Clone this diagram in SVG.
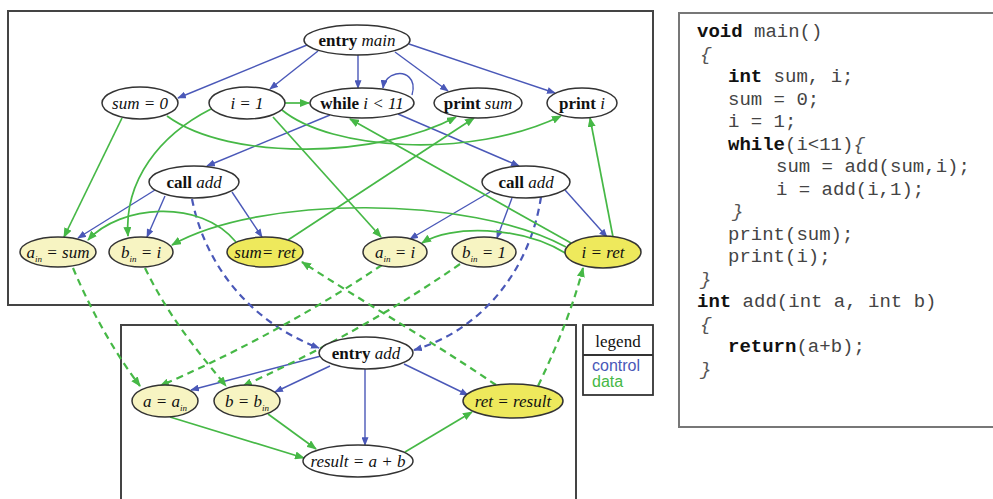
<svg xmlns="http://www.w3.org/2000/svg" width="993" height="499" viewBox="0 0 993 499">
  <style>
    .frame { fill: none; stroke: #444; stroke-width: 2; }
    .node ellipse { stroke: #333; stroke-width: 1.5; fill: #fff; }
    .node.par ellipse { fill: #f7f4c2; }
    .node.ret ellipse { fill: #eee95c; }
    .node text { font-family: "Liberation Serif", "Times New Roman", serif; font-size: 17px; fill: #111; text-anchor: middle; }
    .b { font-weight: bold; }
    .i { font-style: italic; }
    .sub { font-size: 9px; font-style: italic; }
    .ctl { fill: none; stroke: #4a58b8; stroke-width: 1.4; }
    .dat { fill: none; stroke: #46b846; stroke-width: 1.7; }
    .dash { stroke-dasharray: 7 5; stroke-width: 2.2; }
    .code { font-family: "Liberation Mono", "Courier New", monospace; font-size: 19px; fill: #444; white-space: pre; }
    .kw { font-weight: bold; fill: #111; }
    .br { font-style: italic; fill: #555; }
  </style>
  <defs>
    <marker id="ab" viewBox="0 0 10 8" refX="9" refY="4" markerWidth="9" markerHeight="7" markerUnits="userSpaceOnUse" orient="auto">
      <path d="M0,0 L10,4 L0,8 z" fill="#4a58b8"/>
    </marker>
    <marker id="ag" viewBox="0 0 10 8" refX="9" refY="4" markerWidth="10" markerHeight="8" markerUnits="userSpaceOnUse" orient="auto">
      <path d="M0,0 L10,4 L0,8 z" fill="#46b846"/>
    </marker>
  </defs>

  <rect width="993" height="499" fill="#fff"/>

  <!-- frames -->
  <rect class="frame" x="8" y="11" width="645" height="294"/>
  <rect class="frame" x="121" y="325" width="455" height="190"/>
  <rect x="679" y="13" width="330" height="414" fill="none" stroke="#777" stroke-width="2"/>

  <!-- connectors -->
  <g id="edges">
    <!-- control (main) -->
    <path class="ctl" marker-end="url(#ab)" d="M307,45 L178,98"/>
    <path class="ctl" marker-end="url(#ab)" d="M318,51 L270,89"/>
    <path class="ctl" marker-end="url(#ab)" d="M358,55 L358,88"/>
    <path class="ctl" marker-end="url(#ab)" d="M395,52 L448,91"/>
    <path class="ctl" marker-end="url(#ab)" d="M409,44 L555,93"/>
    <path class="ctl" marker-end="url(#ab)" d="M412,95 C417,78 405,72 396,74 C388,76 384,81 383,88"/>
    <path class="ctl" marker-end="url(#ab)" d="M330,115 L207,166"/>
    <path class="ctl" marker-end="url(#ab)" d="M398,114 L519,166"/>
    <path class="ctl" marker-end="url(#ab)" d="M155,190 L78,238"/>
    <path class="ctl" marker-end="url(#ab)" d="M165,196 L147,237"/>
    <path class="ctl" marker-end="url(#ab)" d="M232,192 L262,237"/>
    <path class="ctl" marker-end="url(#ab)" d="M490,192 L410,239"/>
    <path class="ctl" marker-end="url(#ab)" d="M512,198 L497,238"/>
    <path class="ctl" marker-end="url(#ab)" d="M565,190 L607,237"/>
    <!-- control (add) -->
    <path class="ctl" marker-end="url(#ab)" d="M321,356 L191,390"/>
    <path class="ctl" marker-end="url(#ab)" d="M330,366 L275,392"/>
    <path class="ctl" marker-end="url(#ab)" d="M365,369 L365,445"/>
    <path class="ctl" marker-end="url(#ab)" d="M404,364 L468,395"/>
    <!-- call edges -->
    <path class="ctl dash" marker-end="url(#ab)" d="M192,199 C205,265 250,322 319,348"/>
    <path class="ctl dash" marker-end="url(#ab)" d="M541,197 C530,270 482,330 414,350"/>

    <!-- data (main) -->
    <path class="dat" marker-end="url(#ag)" d="M285,103 L309,103"/>
    <path class="dat" marker-end="url(#ag)" d="M122,118 L64,237"/>
    <path class="dat" marker-end="url(#ag)" d="M211,109 C160,135 124,180 128,236"/>
    <path class="dat" marker-end="url(#ag)" d="M273,117 L381,237"/>
    <path class="dat" marker-end="url(#ag)" d="M167,116 C230,162 380,158 456,117"/>
    <path class="dat" marker-end="url(#ag)" d="M282,110 C330,150 470,160 561,116"/>
    <path class="dat" marker-end="url(#ag)" d="M236,242 C200,198 120,205 88,240"/>
    <path class="dat" marker-end="url(#ag)" d="M288,240 L474,118"/>
    <path class="dat" marker-end="url(#ag)" d="M571,243 L350,119"/>
    <path class="dat" marker-end="url(#ag)" d="M566,247 C470,195 260,195 172,245"/>
    <path class="dat" marker-end="url(#ag)" d="M567,254 C520,225 450,225 422,243"/>
    <path class="dat" marker-end="url(#ag)" d="M613,237 L590,118"/>
    <!-- data (add) -->
    <path class="dat" marker-end="url(#ag)" d="M170,417 L304,458"/>
    <path class="dat" marker-end="url(#ag)" d="M268,414 L316,449"/>
    <path class="dat" marker-end="url(#ag)" d="M405,452 L472,412"/>
    <!-- parameter passing -->
    <path class="dat dash" marker-end="url(#ag)" d="M73,268 C95,320 120,360 140,386"/>
    <path class="dat dash" marker-end="url(#ag)" d="M145,268 C170,320 205,360 226,386"/>
    <path class="dat dash" marker-end="url(#ag)" d="M382,265 C300,320 220,360 160,386"/>
    <path class="dat dash" marker-end="url(#ag)" d="M460,264 C380,320 300,360 243,386"/>
    <path class="dat dash" marker-end="url(#ag)" d="M496,385 C430,340 360,300 302,262"/>
    <path class="dat dash" marker-end="url(#ag)" d="M538,386 C560,340 575,300 583,268"/>
  </g>

  <!-- nodes: main -->
  <g id="entry-main" class="node"><ellipse cx="357" cy="40" rx="53" ry="15"/><text x="357" y="46"><tspan class="b">entry</tspan> <tspan class="i">main</tspan></text></g>
  <g id="sum0" class="node"><ellipse cx="140" cy="103" rx="38" ry="16"/><text x="140" y="109" class="i">sum = 0</text></g>
  <g id="i1" class="node"><ellipse cx="247" cy="103" rx="38" ry="16"/><text x="247" y="109" class="i">i = 1</text></g>
  <g id="while" class="node"><ellipse cx="362" cy="103" rx="52" ry="15"/><text x="362" y="109"><tspan class="b">while</tspan> <tspan class="i">i &lt; 11</tspan></text></g>
  <g id="print-sum" class="node"><ellipse cx="478" cy="103" rx="44" ry="15"/><text x="478" y="109"><tspan class="b">print</tspan> <tspan class="i">sum</tspan></text></g>
  <g id="print-i" class="node"><ellipse cx="582" cy="103" rx="35" ry="15"/><text x="582" y="109"><tspan class="b">print</tspan> <tspan class="i">i</tspan></text></g>
  <g id="call1" class="node"><ellipse cx="194" cy="182" rx="45" ry="16"/><text x="194" y="188"><tspan class="b">call</tspan> <tspan class="i">add</tspan></text></g>
  <g id="call2" class="node"><ellipse cx="526" cy="182" rx="44" ry="16"/><text x="526" y="188"><tspan class="b">call</tspan> <tspan class="i">add</tspan></text></g>
  <g id="ain-sum" class="node par"><ellipse cx="58" cy="252" rx="38" ry="15"/><text x="58" y="258" class="i">a<tspan class="sub" dy="4">in</tspan><tspan dy="-4"> = sum</tspan></text></g>
  <g id="bin-i" class="node par"><ellipse cx="141" cy="252" rx="32" ry="15"/><text x="141" y="258" class="i">b<tspan class="sub" dy="4">in</tspan><tspan dy="-4"> = i</tspan></text></g>
  <g id="sum-ret" class="node ret"><ellipse cx="265" cy="252" rx="38" ry="15"/><text x="265" y="258" class="i">sum= ret</text></g>
  <g id="ain-i" class="node par"><ellipse cx="395" cy="252" rx="32" ry="15"/><text x="395" y="258" class="i">a<tspan class="sub" dy="4">in</tspan><tspan dy="-4"> = i</tspan></text></g>
  <g id="bin-1" class="node par"><ellipse cx="484" cy="252" rx="32" ry="15"/><text x="484" y="258" class="i">b<tspan class="sub" dy="4">in</tspan><tspan dy="-4"> = 1</tspan></text></g>
  <g id="i-ret" class="node ret"><ellipse cx="603" cy="252" rx="38" ry="16"/><text x="603" y="258" class="i">i = ret</text></g>

  <!-- nodes: add -->
  <g id="entry-add" class="node"><ellipse cx="366" cy="353" rx="47" ry="16"/><text x="366" y="359"><tspan class="b">entry</tspan> <tspan class="i">add</tspan></text></g>
  <g id="a-ain" class="node par"><ellipse cx="165" cy="401" rx="33" ry="16"/><text x="165" y="407" class="i">a = a<tspan class="sub" dy="4">in</tspan></text></g>
  <g id="b-bin" class="node par"><ellipse cx="247" cy="401" rx="33" ry="16"/><text x="247" y="407" class="i">b = b<tspan class="sub" dy="4">in</tspan></text></g>
  <g id="result" class="node"><ellipse cx="358" cy="461" rx="55" ry="16"/><text x="358" y="467" class="i">result = a + b</text></g>
  <g id="ret-result" class="node ret"><ellipse cx="513" cy="401" rx="50" ry="17"/><text x="513" y="407" class="i">ret = result</text></g>

  <!-- legend -->
  <g id="legend">
    <rect x="583" y="325" width="70" height="70" fill="#fff" stroke="#333" stroke-width="1.8"/>
    <line x1="583" y1="355" x2="653" y2="355" stroke="#333" stroke-width="1.8"/>
    <text x="618" y="347" text-anchor="middle" font-family="Liberation Serif, serif" font-size="17" fill="#111">legend</text>
    <text x="592" y="371" font-family="Liberation Sans, Arial, sans-serif" font-size="16" fill="#4a58b8">control</text>
    <text x="592" y="387" font-family="Liberation Sans, Arial, sans-serif" font-size="16" fill="#46b846">data</text>
  </g>

  <!-- source listing -->
  <g id="code" class="code">
    <text x="697" y="37"><tspan class="kw">void</tspan> main()</text>
    <text x="700" y="60" class="br">{</text>
    <text x="728" y="82"><tspan class="kw">int</tspan> sum, i;</text>
    <text x="728" y="105">sum = 0;</text>
    <text x="728" y="127">i = 1;</text>
    <text x="728" y="150"><tspan class="kw">while</tspan>(i&lt;11)<tspan class="br">{</tspan></text>
    <text x="776" y="172">sum = add(sum,i);</text>
    <text x="776" y="195">i = add(i,1);</text>
    <text x="732" y="217" class="br">}</text>
    <text x="728" y="240">print(sum);</text>
    <text x="728" y="262">print(i);</text>
    <text x="700" y="285" class="br">}</text>
    <text x="697" y="307"><tspan class="kw">int</tspan> add(int a, int b)</text>
    <text x="700" y="330" class="br">{</text>
    <text x="728" y="352"><tspan class="kw">return</tspan>(a+b);</text>
    <text x="700" y="375" class="br">}</text>
  </g>
</svg>
